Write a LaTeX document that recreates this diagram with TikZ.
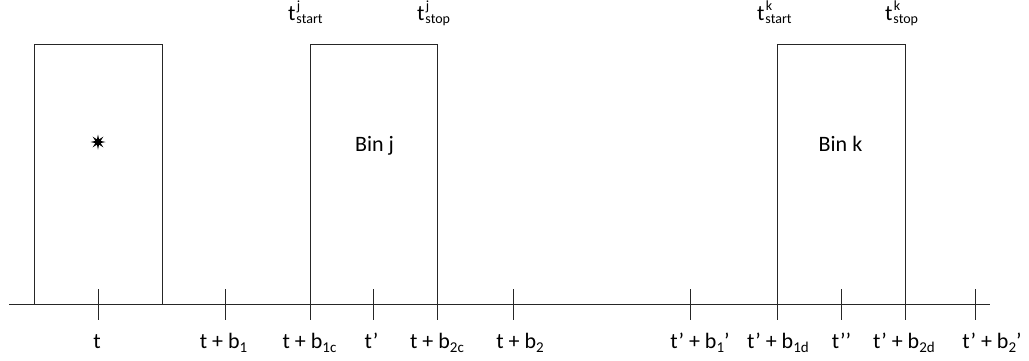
\documentclass[tikz,border=0pt]{standalone}
\usepackage{fontspec}
\setmainfont{Carlito}
\usetikzlibrary{shapes.geometric}
\newcommand\lo[1]{\raisebox{-0.22em}{\fontsize{15}{15}\selectfont #1}}
\begin{document}
\begin{tikzpicture}[x=1pt,y=-1pt,
  binbox/.style={draw=black!85, line width=0.9pt, minimum width=128pt, minimum height=260pt, inner sep=0pt},
  tickline/.style={draw=black!85, line width=0.9pt},
  lbl/.style={font=\fontsize{22}{26}\selectfont, inner sep=0pt, anchor=base},
  small/.style={font=\fontsize{14}{16}\selectfont, inner sep=0pt, anchor=base west}]
\useasboundingbox (0,0) rectangle (1029,360);
% axis
\coordinate (axL) at (9,304);
\coordinate (axR) at (990,304);
\draw[tickline] (axL) -- (axR);
% bins
\node[binbox] (bin1) at (98,174) {};
\node[binbox, minimum width=127pt] (binj) at (373.5,174) {};
\node[binbox] (bink) at (841,174) {};
\node[star, star points=8, star point ratio=2.6, fill=black, minimum size=15pt, inner sep=0pt] (st) at (98,142) {};
\node[lbl] (binjl) at (374.5,151) {Bin j};
\node[lbl] (binkl) at (840.5,151) {Bin k};
% ticks
\foreach \n/\x in {t/98, tb1/225, tbc/310, tp/373, tbtc/437, tb2/513, tpb1/690, tpbd/777, tpp/841, tpbtd/905, tpb2/975}{
  \coordinate (\n-top) at (\x,289);
  \coordinate (\n-bot) at (\x,320);
  \draw[tickline] (\n-top) -- (\n-bot);
}
% bottom labels
\node[lbl] (l1) at (97,348) {t};
\node[lbl] (l2) at (223.5,348) {t + b\lo{1}};
\node[lbl] (l3) at (309.5,348) {t + b\lo{1c}};
\node[lbl] (l4) at (371.5,348) {t’};
\node[lbl] (l5) at (437,348) {t + b\lo{2c}};
\node[lbl] (l6) at (520,348) {t + b\lo{2}};
\node[lbl] (l7) at (700,348) {t’ + b\lo{1}’};
\node[lbl] (l8) at (778,348) {t’ + b\lo{1d}};
\node[lbl] (l9) at (841.5,348) {t’’};
\node[lbl] (l10) at (904,348) {t’ + b\lo{2d}};
\node[lbl] (l11) at (992,348) {t’ + b\lo{2}’};
% top labels
\foreach \n/\x/\s/\w in {tj1/288/j/start, tj2/417/j/stop, tk1/757/k/start, tk2/885/k/stop}{
  \node[lbl, anchor=base west] (\n) at (\x,20) {t};
  \node[small] (\n-lo) at ([xshift=0.5pt]\n.base east |- 0,23) {\w};
  \node[small] (\n-hi) at ([xshift=0.8pt]\n.base east |- 0,10) {\s};
}
\end{tikzpicture}
\end{document}
